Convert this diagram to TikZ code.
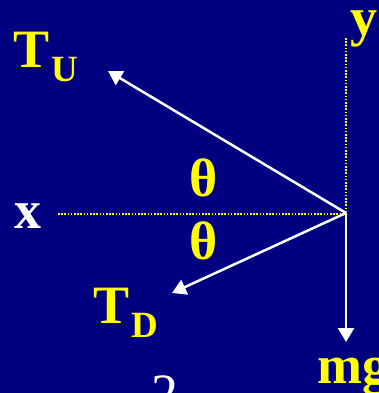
\documentclass[tikz,border=0pt]{standalone}
\usepackage{fontspec}
\setmainfont{Liberation Serif}
\usetikzlibrary{arrows.meta}
\definecolor{bgnavy}{RGB}{0,0,128}
\definecolor{lblyellow}{RGB}{255,255,0}
\tikzset{
  force/.style={draw=white,line width=2.5pt,-{Triangle[length=14pt,width=16pt]}},
  axisline/.style={draw=lblyellow,line width=1.6pt,dash pattern=on 1.6pt off 1.6pt},
  lbl/.style={inner sep=0pt,font=\bfseries\fontsize{54}{60}\selectfont,text=lblyellow}
}
\begin{document}
\begin{tikzpicture}[x=1pt,y=-1pt]
\fill[bgnavy] (0,0) rectangle (379,393);
\useasboundingbox (0,0) rectangle (379,393);
\clip (0,0) rectangle (379,393);
\coordinate (O) at (346,213);
\coordinate (ytop) at (346,38);
\coordinate (xleft) at (58,214);
\coordinate (xend) at (346,214);
\coordinate (tuTip) at (108,71);
\coordinate (tdTip) at (172,293);
\coordinate (mgTip) at (346,342);
\draw[axisline] (ytop) -- (O);
\draw[axisline] (xleft) -- (xend);
\draw[force] (O) -- (tuTip);
\draw[force] (O) -- (tdTip);
\draw[force] (O) -- (mgTip);
\node[lbl,anchor=base west] (TU) at (13,68) {T\hspace{2pt}\raisebox{-14pt}{\bfseries\fontsize{37}{40}\selectfont U}};
\node[lbl,anchor=base west] (TD) at (93,323) {T\hspace{2pt}\raisebox{-14pt}{\bfseries\fontsize{37}{40}\selectfont D}};
\node[lbl,anchor=base west] (ylbl) at (350,36) {y};
\node[lbl,anchor=base,text=white] (xlbl) at (27.5,228) {x};
\node[lbl,anchor=base] (th1) at (204,196) {θ};
\node[lbl,anchor=base] (th2) at (204,259) {θ};
\node[lbl,anchor=base west] (mg) at (317,383) {mg};
\node[inner sep=0pt,anchor=base,text=white,font=\fontsize{54}{60}\selectfont] (two) at (165,411) {2};
\end{tikzpicture}
\end{document}
